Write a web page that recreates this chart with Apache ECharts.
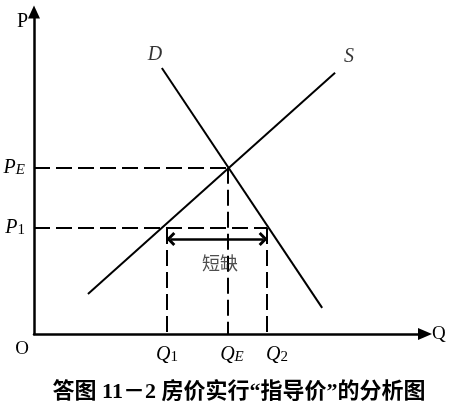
<!DOCTYPE html>
<html><head><meta charset="utf-8">
<script src="https://cdn.jsdelivr.net/npm/echarts@6/dist/echarts.min.js"></script>
<style>html,body{margin:0;padding:0;background:#fff}#c{width:450px;height:411px}</style>
</head><body><div id="c"></div>
<script>
// ---- data (abstract units 0..100 on both axes) ----
const qValues = [34.0, 49.6, 59.6];      // Q1, QE, Q2
const qNames  = ['Q', 'Q', 'Q'];
const qSubs   = ['1', 'E', '2'];
const pValues = [32.9, 51.6];            // P1, PE
const pNames  = ['P', 'P'];
const pSubs   = ['1', 'E'];
const demand  = [[32.7, 82.6], [73.7, 8.1]];
const supply  = [[13.8, 12.4], [77.0, 81.1]];
const shortage = [[35.0, 29.5], [58.6, 29.5]];
const curveNames = ['D', 'S'];
const shortageText = '短缺';
const caption = '答图 11－2 房价实行“指导价”的分析图';

const SERIF = "'Liberation Serif','DejaVu Serif',serif";
const Q1 = qValues[0], QE = qValues[1], Q2 = qValues[2];
const P1 = pValues[0], PE = pValues[1];

const rich = {
  m:  {fontFamily: SERIF, fontStyle: 'italic', fontSize: 20, lineHeight: 20, verticalAlign: 'top', color: '#000'},
  si: {fontFamily: SERIF, fontStyle: 'italic', fontSize: 15, lineHeight: 15, verticalAlign: 'bottom', padding: [9, 0, 0, 0], color: '#000'},
  sn: {fontFamily: SERIF, fontStyle: 'normal', fontSize: 15, lineHeight: 15, verticalAlign: 'bottom', padding: [9, 0, 0, 0], color: '#000'},
  o:  {fontFamily: SERIF, fontStyle: 'normal', fontSize: 19, lineHeight: 8, padding: [0, 24, 0, 0], color: '#000'},
  sp8: {width: 8, fontSize: 10},
  sp20: {width: 20, fontSize: 10}
};
function subLabel(name, sub) {
  const st = /^[0-9]$/.test(sub) ? 'sn' : 'si';
  return '{m|' + name + '}{' + st + '|' + sub + '}';
}
const qShift = ['', '{sp8| }', '{sp20| }'];

const dashed = [
  [[0, PE], [QE, PE]],
  [[QE, PE], [QE, 0]],
  [[0, P1], [Q2, P1]],
  [[Q1, P1], [Q1, 0]],
  [[Q2, P1], [Q2, 0]]
].map(seg => [{coord: seg[0]}, {coord: seg[1]}]);

const chevron = 'path://M10,0L20,10L17,13L10,6L3,13L0,10Z';

const chart = echarts.init(document.getElementById('c'), null, {renderer: 'canvas'});
chart.setOption({
  animation: false,
  backgroundColor: '#fff',
  grid: {left: 34, right: 25, top: 12, bottom: 77, containLabel: false, outerBoundsMode: 'none'},
  xAxis: {
    type: 'value', min: 0, max: 100,
    splitLine: {show: false},
    axisTick: {show: false},
    axisLine: {show: true, symbol: ['none', 'triangle'], symbolSize: [12, 14],
      lineStyle: {color: '#000', width: 2.5}},
    axisLabel: {
      customValues: [0].concat(qValues), margin: 11, rich: rich,
      formatter: function (v) {
        if (v === 0) return '{o|O}';
        const i = qValues.indexOf(v);
        return i < 0 ? '' : qShift[i] + subLabel(qNames[i], qSubs[i]);
      }
    },
    name: 'Q', nameLocation: 'end', nameGap: 7,
    nameTextStyle: {fontFamily: SERIF, fontSize: 19, color: '#000', align: 'left', verticalAlign: 'middle', padding: [32, 0, 0, 0]}
  },
  yAxis: {
    type: 'value', min: 0, max: 100,
    splitLine: {show: false},
    axisTick: {show: false},
    axisLine: {show: true, symbol: ['none', 'triangle'], symbolSize: [12, 13],
      lineStyle: {color: '#000', width: 2.5}},
    axisLabel: {
      customValues: pValues, margin: 9, rich: rich,
      formatter: function (v) {
        const i = pValues.indexOf(v);
        return i < 0 ? '' : subLabel(pNames[i], pSubs[i]);
      }
    },
    name: 'P', nameLocation: 'end', nameGap: -10,
    nameTextStyle: {fontFamily: SERIF, fontSize: 20, color: '#000', align: 'right', verticalAlign: 'middle', padding: [0, 6, 0, 0]}
  },
  series: [
    {
      type: 'line', name: 'D', data: demand, symbol: 'none', silent: true,
      lineStyle: {color: '#000', width: 2}, z: 3,
      markLine: {
        silent: true, symbol: ['none', 'none'], label: {show: false},
        lineStyle: {color: '#000', width: 2, type: [16, 6]},
        data: dashed, z: 2
      }
    },
    {
      type: 'line', name: 'S', data: supply, symbol: 'none', silent: true,
      lineStyle: {color: '#000', width: 2}, z: 3
    },
    {
      type: 'line', name: 'shortage', data: [], silent: true,
      markLine: {
        silent: true, symbol: [chevron, chevron], symbolSize: [14, 9],
        label: {show: false},
        lineStyle: {color: '#000', width: 2.5, type: 'solid'},
        data: [[{coord: shortage[0]}, {coord: shortage[1]}]]
      }
    },
    {
      type: 'scatter', name: 'labels', symbolSize: 0, silent: true, z: 5,
      data: [
        {value: demand[0], label: {formatter: curveNames[0], offset: [-7, -13]}},
        {value: supply[1], label: {formatter: curveNames[1], offset: [14, -16]}},
        {value: [(shortage[0][0] + shortage[1][0]) / 2, shortage[0][1]],
          label: {formatter: shortageText, offset: [3, 24], fontFamily: "'Noto Sans CJK SC',sans-serif",
            fontStyle: 'normal', fontSize: 18, color: '#222'}}
      ],
      label: {show: true, position: 'inside', fontFamily: SERIF, fontStyle: 'italic', fontSize: 20, color: '#000'}
    }
  ],
  graphic: [{
    type: 'text', x: 239, y: 392, silent: true,
    style: {text: caption, align: 'center', verticalAlign: 'middle',
      fontFamily: "'Liberation Serif','Noto Sans CJK SC',serif", fontWeight: 'bold', fontSize: 22, fill: '#000'}
  }]
});
</script></body></html>
